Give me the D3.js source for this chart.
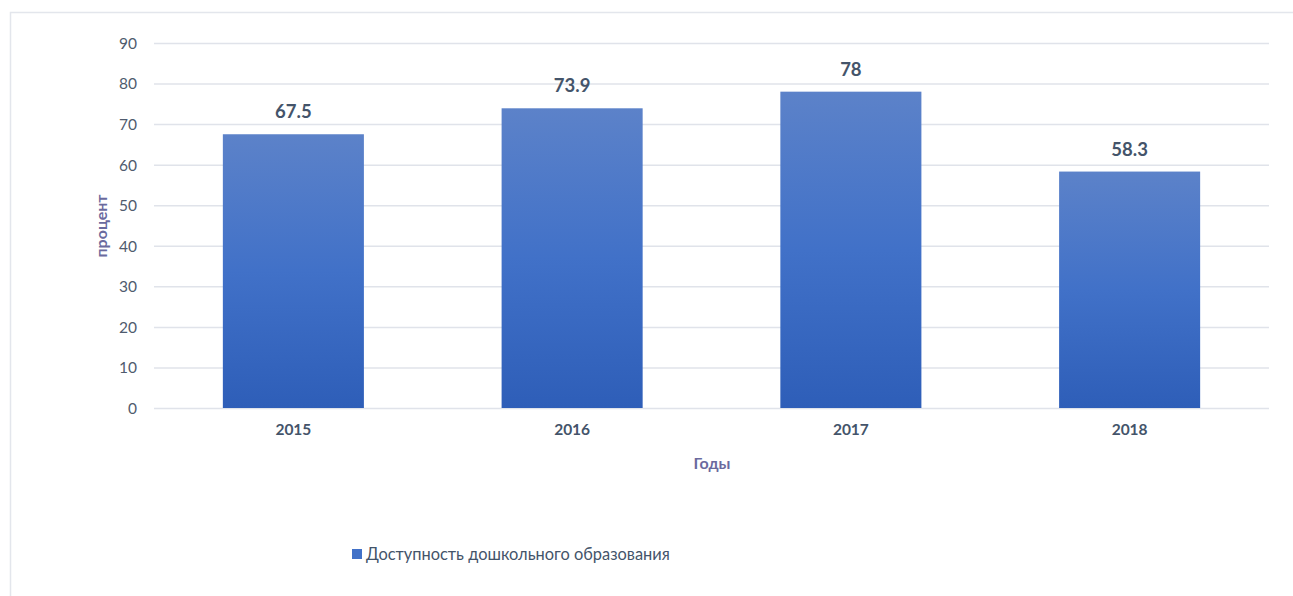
<!DOCTYPE html>
<html><head><meta charset="utf-8">
<script src="https://cdn.jsdelivr.net/npm/d3@7"></script>
<style>body{margin:0;background:#fff;}svg{display:block;font-family:Lato,"Open Sans",sans-serif;}</style>
</head><body>
<svg id="c" width="1293" height="596"></svg>
<script>
const categories = ["2015","2016","2017","2018"];
const values = [67.5, 73.9, 78, 58.3];
const yTicks = [0,10,20,30,40,50,60,70,80,90];
const seriesName = "Доступность дошкольного образования";
const yTitle = "процент";
const xTitle = "Годы";

(function(){
const svg = d3.select("#c");
const pLeft = 154, pRight = 1269, pTop = 43, pBottom = 408;
const x = d3.scaleBand().domain(categories).range([pLeft, pRight]).paddingInner(0.494).paddingOuter(0.247);
const y = d3.scaleLinear().domain([0, 90]).range([pBottom, pTop]);

// frame
svg.append("rect").attr("x",10.5).attr("y",12.5).attr("width",1300).attr("height",600)
  .attr("fill","none").attr("stroke","#e3e6ec").attr("stroke-width",1.5);

const defs = svg.append("defs");
const g = defs.append("linearGradient").attr("id","bg").attr("x1",0).attr("y1",0).attr("x2",0).attr("y2",1);
g.append("stop").attr("offset","0%").attr("stop-color","#5c82c9");
g.append("stop").attr("offset","50%").attr("stop-color","#4171c8");
g.append("stop").attr("offset","100%").attr("stop-color","#2e5eb8");

// grid
svg.append("g").selectAll("line").data(yTicks).join("line")
  .attr("x1",pLeft).attr("x2",pRight).attr("y1",d=>y(d)+0.5).attr("y2",d=>y(d)+0.5)
  .attr("stroke","#e0e3ea").attr("stroke-width",1.5);

// y axis labels
const ya = svg.append("g").attr("transform",`translate(${pLeft-17},0)`)
  .call(d3.axisLeft(y).tickValues(yTicks).tickSize(0).tickPadding(0));
ya.select(".domain").remove();
ya.selectAll("text").attr("font-size",15.5).attr("fill","#4f5b6e").attr("font-family","Lato,'Open Sans',sans-serif").attr("dy","0.35em");

// bars
svg.append("g").selectAll("rect").data(values).join("rect")
  .attr("x",(d,i)=>x(categories[i])).attr("width",x.bandwidth())
  .attr("y",d=>y(d)).attr("height",d=>pBottom-y(d)).attr("fill","url(#bg)");

// data labels
svg.append("g").selectAll("text").data(values).join("text")
  .attr("x",(d,i)=>x(categories[i])+x.bandwidth()/2).attr("y",d=>y(d)-16)
  .attr("text-anchor","middle").attr("font-size",18.5).attr("font-weight","bold").attr("fill","#44546a")
  .text(d=>d);

// x axis labels
const xa = svg.append("g").attr("transform",`translate(0,${pBottom})`)
  .call(d3.axisBottom(x).tickSize(0).tickPadding(16));
xa.select(".domain").remove();
xa.selectAll("text").attr("font-size",15.5).attr("font-weight","bold").attr("fill","#44546a").attr("font-family","Lato,'Open Sans',sans-serif");

// axis titles
svg.append("text").attr("transform","translate(107,226) rotate(-90)").attr("text-anchor","middle")
  .attr("font-size",16).attr("font-weight","bold").attr("fill","#6a6a9e").text(yTitle);
svg.append("text").attr("x",712).attr("y",469).attr("text-anchor","middle")
  .attr("font-size",16).attr("font-weight","bold").attr("fill","#6a6a9e").text(xTitle);

// legend
svg.append("rect").attr("x",352).attr("y",549).attr("width",10).attr("height",10).attr("fill","#4171c8");
svg.append("text").attr("x",366).attr("y",560).attr("font-size",16.4).attr("fill","#44546a").text(seriesName);
})();
</script>
</body></html>
